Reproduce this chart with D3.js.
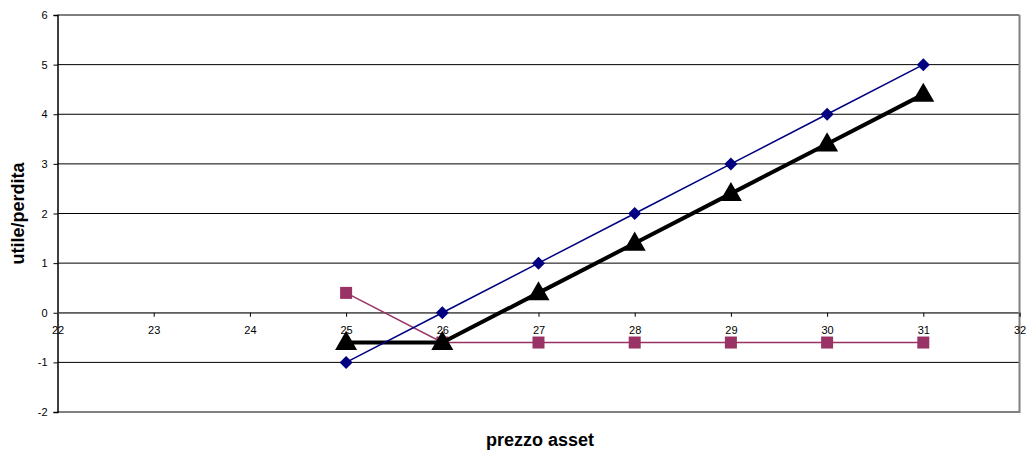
<!DOCTYPE html>
<html>
<head>
<meta charset="utf-8">
<script src="https://cdn.jsdelivr.net/npm/d3@7"></script>
<style>
  html, body { margin: 0; padding: 0; background: #fff; }
  svg { display: block; font-family: "Liberation Sans", Arial, sans-serif; }
</style>
</head>
<body>
<svg id="chart" width="1028" height="450"></svg>
<script>
// Asset price points
const prezzi = [25, 26, 27, 28, 29, 30, 31];
// Payoff series (profit/loss)
const asset = [-1, 0, 1, 2, 3, 4, 5];
const opzione = [0.4, -0.6, -0.6, -0.6, -0.6, -0.6, -0.6];
const totale = [-0.6, -0.6, 0.4, 1.4, 2.4, 3.4, 4.4];
// Axis ticks
const xTicks = [22, 23, 24, 25, 26, 27, 28, 29, 30, 31, 32];
const yTicks = [-2, -1, 0, 1, 2, 3, 4, 5, 6];

const svg = d3.select("#chart");
const L = 57.5, R = 1019.5, T = 15, B = 412;

const x = d3.scaleLinear().domain([22, 32]).range([L, R]);
const y = d3.scaleLinear().domain([-2, 6]).range([B, T]);

// Horizontal gridlines
svg.append("g").selectAll("line").data(yTicks).join("line")
  .attr("x1", L).attr("x2", R)
  .attr("y1", d => y(d)).attr("y2", d => y(d))
  .attr("stroke", "#000").attr("stroke-width", 1);

// Plot frame (right and bottom)
svg.append("path")
  .attr("d", `M${L},${B}H${R}V${T}`)
  .attr("fill", "none").attr("stroke", "#808080").attr("stroke-width", 2);

// Y axis
const yAxis = d3.axisLeft(y).tickValues(yTicks).tickSize(4).tickPadding(6).tickFormat(d => String(d));
const gy = svg.append("g").attr("transform", `translate(${L},0)`).call(yAxis);
gy.select(".domain").attr("stroke", "#000").attr("stroke-width", 1.5);
gy.selectAll("text").attr("font-size", 11).attr("fill", "#000")
  .attr("font-family", "Liberation Sans, Arial, sans-serif");

// X axis crossing at zero
const xAxis = d3.axisBottom(x).tickValues(xTicks).tickSize(4).tickPadding(9).tickFormat(d => String(d));
const gx = svg.append("g").attr("transform", `translate(0,${y(0)})`).call(xAxis);
gx.select(".domain").attr("stroke", "#808080").attr("stroke-width", 1.5);
gx.selectAll(".tick line").attr("stroke", "#000");
gx.selectAll("text").attr("font-size", 11).attr("fill", "#000")
  .attr("font-family", "Liberation Sans, Arial, sans-serif");

const line = d3.line().x((d, i) => x(prezzi[i])).y(d => y(d));

// Option series (squares)
svg.append("path").datum(opzione).attr("d", line)
  .attr("fill", "none").attr("stroke", "#993366").attr("stroke-width", 1.5);
svg.append("g").selectAll("rect").data(opzione).join("rect")
  .attr("x", (d, i) => x(prezzi[i]) - 6).attr("y", d => y(d) - 6)
  .attr("width", 12).attr("height", 12).attr("fill", "#993366");

// Combined position (triangles)
svg.append("path").datum(totale).attr("d", line)
  .attr("fill", "none").attr("stroke", "#000").attr("stroke-width", 4);
const tri = d3.symbol().type(d3.symbolTriangle).size(210);
svg.append("g").selectAll("path").data(totale).join("path")
  .attr("d", tri)
  .attr("transform", (d, i) => `translate(${x(prezzi[i])},${y(d) + 1})`)
  .attr("fill", "#000");

// Underlying asset (diamonds)
svg.append("path").datum(asset).attr("d", line)
  .attr("fill", "none").attr("stroke", "#000080").attr("stroke-width", 1.5);
svg.append("g").selectAll("path").data(asset).join("path")
  .attr("d", "M0,-6.5L6.5,0L0,6.5L-6.5,0Z")
  .attr("transform", (d, i) => `translate(${x(prezzi[i])},${y(d)})`)
  .attr("fill", "#000080");

// Axis titles
svg.append("text")
  .attr("x", 540).attr("y", 446)
  .attr("text-anchor", "middle")
  .attr("font-size", 18).attr("font-weight", "bold")
  .text("prezzo asset");

svg.append("text")
  .attr("transform", `translate(24,${(T + B) / 2}) rotate(-90)`)
  .attr("text-anchor", "middle")
  .attr("font-size", 18).attr("font-weight", "bold")
  .text("utile/perdita");
</script>
</body>
</html>
